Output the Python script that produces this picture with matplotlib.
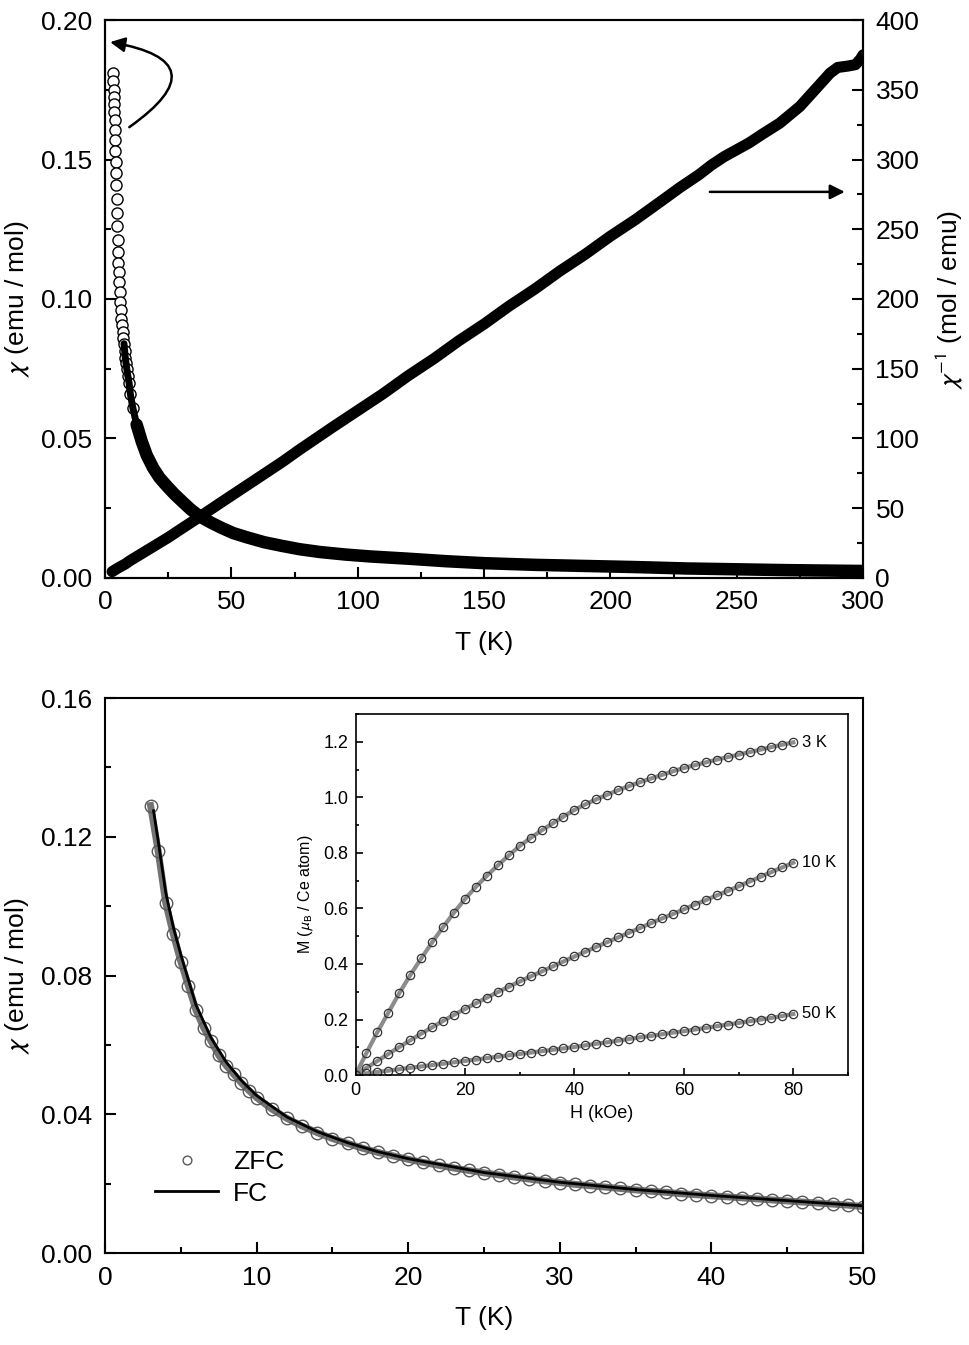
import numpy as np
import matplotlib.pyplot as plt
from matplotlib.ticker import MultipleLocator

plt.rcParams['font.family'] = ['Liberation Sans', 'DejaVu Sans']
plt.rcParams['mathtext.fontset'] = 'stixsans'

# ---- top panel: chi(T) and 1/chi(T), 2-300 K ----
T_chi = [3.2, 3.3, 3.4, 3.5, 3.6, 3.7, 3.8, 3.9, 4.0, 4.1, 4.2, 4.3, 4.4, 4.55, 4.7,
         4.85, 5.0, 5.15, 5.3, 5.45, 5.6, 5.8, 6.0, 6.25, 6.5, 6.75, 7.0, 7.25, 7.5,
         7.75, 8.0, 8.3, 8.6, 9.0, 9.5, 10, 11, 12.5, 14.5, 16.5, 19, 21.5, 24.4, 27.5,
         31, 34, 37.6, 42, 46, 50.7, 56, 63, 70, 77, 85, 95, 105, 120, 135, 150, 170,
         190, 210, 230, 250, 270, 290, 300]
chi = [0.181, 0.178, 0.175, 0.1725, 0.170, 0.167, 0.164, 0.1605, 0.157, 0.153, 0.149,
       0.145, 0.141, 0.136, 0.131, 0.126, 0.121, 0.117, 0.113, 0.1095, 0.106, 0.1025,
       0.099, 0.096, 0.093, 0.0905, 0.088, 0.086, 0.084, 0.0815, 0.079, 0.077, 0.075,
       0.0725, 0.070, 0.066, 0.061, 0.055, 0.049, 0.044, 0.0395, 0.036, 0.033, 0.030,
       0.027, 0.0245, 0.022, 0.0198, 0.0180, 0.0161, 0.0146, 0.0128, 0.0115, 0.0103,
       0.0093, 0.0084, 0.0077, 0.0069, 0.0060, 0.0053, 0.0047, 0.0043, 0.0039,
       0.0034, 0.0031, 0.0028, 0.0026, 0.0025]

T_inv = [2.8, 5, 8, 10, 15, 20, 25, 30, 37.6, 45, 50, 60, 70, 77, 90, 100, 110, 120,
         130, 140, 150, 160, 170, 180, 190, 200, 210, 220, 227.6, 235, 240, 245, 250,
         255, 260, 267, 271, 275, 279, 282, 285, 287, 290, 294, 297, 299, 300]
chi_inv = [4.5, 7, 10, 12.5, 18, 23.5, 29, 35, 44, 53, 59, 71, 83, 92, 108, 120, 132,
           145, 157, 170, 182, 195, 207, 220, 232, 245, 257, 270, 280, 289, 296, 302,
           307, 312, 318, 326, 332, 338, 346, 352, 358, 362, 366, 367, 368, 372, 375]

# ---- bottom panel: ZFC / FC chi(T), 3-50 K ----
T_zfc = [3.0, 3.5, 4.0, 4.5, 5.0, 5.5, 6.0, 6.5, 7.0, 7.5, 8.0, 8.5, 9.0, 9.5, 10, 11,
         12, 13, 14, 15, 16, 17, 18, 19, 20, 21, 22, 23, 24, 25, 26, 27, 28, 29, 30,
         31, 32, 33, 34, 35, 36, 37, 38, 39, 40, 41, 42, 43, 44, 45, 46, 47, 48, 49, 50]
chi_zfc = [0.129, 0.116, 0.101, 0.092, 0.084, 0.077, 0.070, 0.065, 0.061, 0.057, 0.054,
           0.0515, 0.049, 0.0468, 0.0448, 0.0415, 0.0388, 0.0366, 0.0347, 0.0330,
           0.0316, 0.0302, 0.0290, 0.0280, 0.0270, 0.0261, 0.0253, 0.0245, 0.0238,
           0.0231, 0.0225, 0.0219, 0.0213, 0.0208, 0.0203, 0.0198, 0.0194, 0.0190,
           0.0186, 0.0182, 0.0178, 0.0175, 0.0171, 0.0168, 0.0165, 0.0162, 0.0159,
           0.0156, 0.0153, 0.0150, 0.0147, 0.0144, 0.0141, 0.0138, 0.0134]
T_fc = [3.2, 3.5, 4, 4.5, 5, 6, 7, 8, 9, 10, 12, 14, 16, 18, 20, 25, 30, 35, 40, 45, 50]
chi_fc = [0.1275, 0.119, 0.104, 0.094, 0.086, 0.0715, 0.062, 0.055, 0.0497, 0.0454,
          0.0392, 0.0350, 0.0318, 0.0292, 0.0272, 0.0232, 0.0204, 0.0183, 0.0166,
          0.0151, 0.0136]

# ---- inset: M(H) at 3, 10, 50 K ----
H = [0, 2, 4, 6, 8, 10, 12, 14, 16, 18, 20, 22, 24, 26, 28, 30, 32, 34, 36, 38, 40,
     42, 44, 46, 48, 50, 52, 54, 56, 58, 60, 62, 64, 66, 68, 70, 72, 74, 76, 78, 80]
M_3K = [0.0, 0.08, 0.155, 0.225, 0.295, 0.36, 0.42, 0.478, 0.533, 0.585, 0.634, 0.678,
        0.718, 0.755, 0.791, 0.825, 0.854, 0.881, 0.906, 0.931, 0.955, 0.975, 0.993,
        1.010, 1.026, 1.041, 1.055, 1.068, 1.081, 1.094, 1.106, 1.116, 1.126, 1.136,
        1.145, 1.154, 1.163, 1.172, 1.181, 1.19, 1.198]
M_10K = [0.0, 0.026, 0.051, 0.076, 0.101, 0.125, 0.149, 0.172, 0.195, 0.217, 0.238,
         0.259, 0.279, 0.299, 0.318, 0.337, 0.355, 0.373, 0.391, 0.409, 0.427, 0.444,
         0.462, 0.479, 0.496, 0.513, 0.530, 0.547, 0.564, 0.580, 0.597, 0.614, 0.630,
         0.647, 0.663, 0.680, 0.697, 0.714, 0.731, 0.748, 0.765]
M_50K = [0.0, 0.006, 0.011, 0.016, 0.021, 0.026, 0.031, 0.036, 0.041, 0.046, 0.051,
         0.056, 0.061, 0.066, 0.071, 0.076, 0.081, 0.086, 0.091, 0.096, 0.101, 0.107,
         0.113, 0.118, 0.124, 0.130, 0.136, 0.141, 0.147, 0.153, 0.158, 0.164, 0.170,
         0.176, 0.182, 0.188, 0.194, 0.200, 0.206, 0.213, 0.220]
curve_labels = ['3 K', '10 K', '50 K']


def style(ax, fs, lmaj, lmin, pad, lw):
    ax.tick_params(which='both', direction='in', labelsize=fs, width=lw, pad=pad)
    ax.tick_params(which='major', length=lmaj)
    ax.tick_params(which='minor', length=lmin)
    for s in ax.spines.values():
        s.set_linewidth(lw)


fig = plt.figure(figsize=(9.69, 13.45), dpi=100)

# top
ax1 = fig.add_axes([0.1084, 0.5703, 0.7822, 0.4148])
ax2 = ax1.twinx()
T_chi = np.array(T_chi)
chi = np.array(chi)
low = T_chi <= 11
mid = (T_chi >= 7.5) & (T_chi <= 15)
high = T_chi >= 12
ax1.plot(T_chi[low], chi[low], 'o', ms=8, mfc='white', mec='k', mew=1.0, zorder=2)
ax1.plot(T_chi[mid], chi[mid], '-', color='k', lw=5, solid_capstyle='round', zorder=3)
ax1.plot(T_chi[high], chi[high], '-', color='k', lw=9, solid_capstyle='round', zorder=3)
ax2.plot(T_inv, chi_inv, '-', color='k', lw=8, solid_capstyle='round')

ax1.set_xlim(0, 300)
ax1.set_ylim(0, 0.2)
ax2.set_ylim(0, 400)
ax1.xaxis.set_major_locator(MultipleLocator(50))
ax1.xaxis.set_minor_locator(MultipleLocator(25))
ax1.yaxis.set_major_locator(MultipleLocator(0.05))
ax1.yaxis.set_minor_locator(MultipleLocator(0.025))
ax2.yaxis.set_major_locator(MultipleLocator(50))
ax2.yaxis.set_minor_locator(MultipleLocator(25))
ax1.yaxis.set_major_formatter(plt.FormatStrFormatter('%.2f'))
style(ax1, 19, 8, 4, 9, 1.5)
style(ax2, 19, 8, 4, 9, 1.5)
ax1.set_xlabel('T (K)', fontsize=19, labelpad=12)
ax1.set_ylabel(r'$\chi$ (emu / mol)', fontsize=19, labelpad=7)
ax2.set_ylabel(r'$\chi^{-1}$ (mol / emu)', fontsize=19, labelpad=10)

ax1.annotate('', xy=(2.0, 0.1921), xytext=(9.6, 0.1616),
             arrowprops=dict(arrowstyle='-|>', connectionstyle='arc3,rad=1.2',
                             lw=1.8, color='k', mutation_scale=22, shrinkA=0, shrinkB=0))
ax1.annotate('', xy=(292.8, 0.1384), xytext=(239.4, 0.1384),
             arrowprops=dict(arrowstyle='-|>', lw=1.8, color='k', mutation_scale=22,
                             shrinkA=0, shrinkB=0))

# bottom
ax3 = fig.add_axes([0.1084, 0.0684, 0.7822, 0.4126])
ax3.plot(T_zfc, chi_zfc, '-', color='0.45', lw=5, zorder=1)
ax3.plot(T_zfc, chi_zfc, 'o', ms=9, mfc='none', mec='0.35', mew=1.0, label='ZFC',
         zorder=2)
ax3.plot(T_fc, chi_fc, '-', color='k', lw=2, label='FC', zorder=3)
ax3.set_xlim(0, 50)
ax3.set_ylim(0, 0.16)
ax3.xaxis.set_major_locator(MultipleLocator(10))
ax3.xaxis.set_minor_locator(MultipleLocator(5))
ax3.yaxis.set_major_locator(MultipleLocator(0.04))
ax3.yaxis.set_minor_locator(MultipleLocator(0.02))
ax3.yaxis.set_major_formatter(plt.FormatStrFormatter('%.2f'))
style(ax3, 19, 8, 4, 9, 1.5)
ax3.set_xlabel('T (K)', fontsize=19, labelpad=12)
ax3.set_ylabel(r'$\chi$ (emu / mol)', fontsize=19, labelpad=7)
ax3.legend(loc='upper left', bbox_to_anchor=(0.052, 0.205), frameon=False, fontsize=19,
           handlelength=2.4, handletextpad=0.55, labelspacing=0.3, markerscale=0.7,
           borderaxespad=0)

# inset
ax4 = fig.add_axes([0.3669, 0.2007, 0.5083, 0.2684])
for M, lab in zip([M_3K, M_10K, M_50K], curve_labels):
    ax4.plot(H, M, '-', color='0.55', lw=3)
    ax4.plot(H, M, 'o', ms=6, mfc='none', mec='0.2', mew=0.9)
    ax4.text(H[-1] + 1.5, M[-1], lab, fontsize=12, ha='left', va='center')
ax4.set_xlim(0, 90)
ax4.set_ylim(0, 1.3)
ax4.xaxis.set_major_locator(MultipleLocator(20))
ax4.xaxis.set_minor_locator(MultipleLocator(10))
ax4.yaxis.set_major_locator(MultipleLocator(0.2))
ax4.yaxis.set_minor_locator(MultipleLocator(0.1))
ax4.yaxis.set_major_formatter(plt.FormatStrFormatter('%.1f'))
style(ax4, 13, 5, 2.5, 5, 1.2)
ax4.set_xlabel('H (kOe)', fontsize=13, labelpad=4)
ax4.set_ylabel(r'M ($\mu_\mathrm{B}$ / Ce atom)', fontsize=11.5, labelpad=6)

fig.savefig('out.png', dpi=100)
